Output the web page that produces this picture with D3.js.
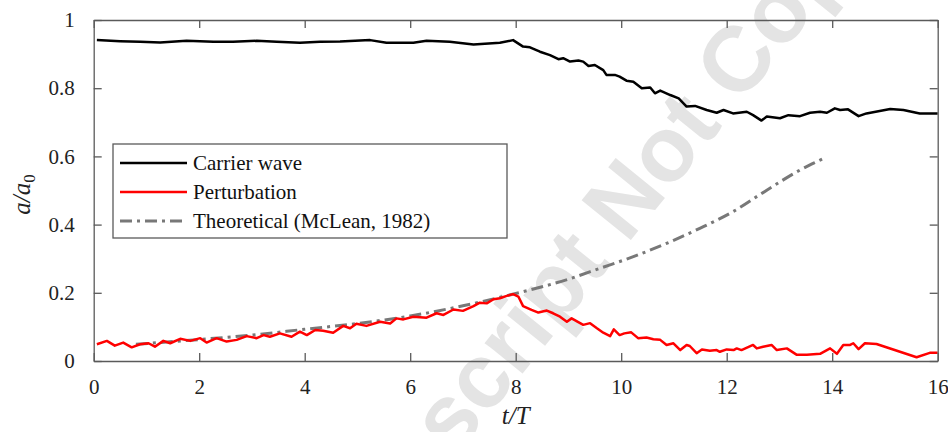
<!DOCTYPE html>
<html>
<head>
<meta charset="utf-8">
<script src="https://cdn.jsdelivr.net/npm/d3@7"></script>
<style>
  body { margin: 0; background: white; }
  svg { display: block; }
</style>
</head>
<body>
<script>
var carrierT = [0.06, 0.5, 0.88, 1.26, 1.76, 2.27, 2.64, 3.09, 3.47, 3.91, 4.29, 4.67, 5.24, 5.55,
                6.06, 6.31, 6.75, 7.2, 7.7, 7.95, 8.14, 8.27, 8.46, 8.65, 8.81, 8.9, 9.03, 9.19,
                9.28, 9.38, 9.5, 9.66, 9.72, 9.88, 9.97, 10.1, 10.23, 10.39, 10.55, 10.64, 10.74,
                10.93, 11.09, 11.24, 11.4, 11.62, 11.81, 11.94, 12.12, 12.38, 12.5, 12.66, 12.76,
                13.01, 13.17, 13.39, 13.58, 13.77, 13.9, 14.05, 14.15, 14.3, 14.5, 14.65, 15.1,
                15.35, 15.66, 16];
var carrierA = [0.941, 0.938, 0.936, 0.934, 0.939, 0.936, 0.936, 0.939, 0.936, 0.933, 0.936, 0.937,
                0.941, 0.933, 0.933, 0.939, 0.936, 0.928, 0.933, 0.941, 0.922, 0.92, 0.907, 0.897,
                0.885, 0.888, 0.878, 0.881, 0.878, 0.865, 0.868, 0.853, 0.839, 0.839, 0.834, 0.822,
                0.819, 0.8, 0.802, 0.785, 0.793, 0.78, 0.77, 0.746, 0.748, 0.736, 0.728, 0.736,
                0.726, 0.731, 0.721, 0.705, 0.717, 0.712, 0.721, 0.718, 0.728, 0.731, 0.728, 0.741,
                0.736, 0.738, 0.718, 0.726, 0.739, 0.736, 0.726, 0.726];

var pertT = [0.06, 0.25, 0.4, 0.56, 0.72, 0.88, 1.04, 1.16, 1.32, 1.45, 1.64, 1.83, 2.02, 2.14,
             2.33, 2.52, 2.71, 2.9, 3.09, 3.22, 3.34, 3.53, 3.75, 3.91, 4.04, 4.2, 4.35, 4.54,
             4.73, 4.86, 4.98, 5.17, 5.43, 5.62, 5.74, 5.87, 6.06, 6.31, 6.5, 6.63, 6.82, 7.0,
             7.2, 7.32, 7.45, 7.58, 7.7, 7.83, 7.95, 8.05, 8.14, 8.3, 8.43, 8.59, 8.71, 8.84,
             8.97, 9.06, 9.28, 9.41, 9.54, 9.66, 9.79, 9.86, 9.97, 10.06, 10.19, 10.32, 10.48,
             10.61, 10.74, 10.86, 10.99, 11.12, 11.24, 11.3, 11.43, 11.53, 11.68, 11.81, 11.87,
             12.0, 12.13, 12.19, 12.28, 12.5, 12.57, 12.69, 12.85, 12.95, 13.14, 13.33, 13.52,
             13.77, 13.96, 14.09, 14.21, 14.34, 14.4, 14.5, 14.62, 14.84, 15.6, 15.85, 16];
var pertA = [0.049, 0.059, 0.045, 0.054, 0.04, 0.049, 0.052, 0.042, 0.059, 0.052, 0.065, 0.059,
             0.067, 0.054, 0.067, 0.057, 0.062, 0.073, 0.067, 0.076, 0.071, 0.081, 0.071, 0.086,
             0.076, 0.091, 0.089, 0.083, 0.103, 0.096, 0.109, 0.103, 0.115, 0.11, 0.125, 0.122,
             0.13, 0.127, 0.14, 0.135, 0.151, 0.147, 0.161, 0.171, 0.169, 0.181, 0.184, 0.191,
             0.196, 0.189, 0.161, 0.15, 0.142, 0.148, 0.14, 0.13, 0.115, 0.125, 0.106, 0.111,
             0.096, 0.083, 0.073, 0.093, 0.076, 0.081, 0.084, 0.067, 0.069, 0.064, 0.062, 0.047,
             0.052, 0.032, 0.047, 0.044, 0.023, 0.034, 0.03, 0.032, 0.027, 0.034, 0.032, 0.037,
             0.032, 0.047, 0.037, 0.042, 0.047, 0.032, 0.037, 0.018, 0.018, 0.021, 0.037, 0.021,
             0.047, 0.047, 0.052, 0.035, 0.052, 0.05, 0.011, 0.024, 0.024];

var theoryT = [0.8, 2, 3, 4, 5, 6, 7, 8, 9, 9.6, 10.23, 10.86, 11.49, 12.12, 12.76, 13.39, 13.77, 13.85];
var theoryA = [0.049, 0.063, 0.076, 0.093, 0.11, 0.132, 0.162, 0.198, 0.24, 0.272, 0.306, 0.345,
               0.389, 0.438, 0.501, 0.56, 0.589, 0.595];

var xTicks = [0, 2, 4, 6, 8, 10, 12, 14, 16];
var yTicks = [0, 0.2, 0.4, 0.6, 0.8, 1];
var yTickLabels = ['0', '0.2', '0.4', '0.6', '0.8', '1'];
var legendNames = ['Carrier wave', 'Perturbation', 'Theoretical (McLean, 1982)'];

var width = 948, height = 432;
var margin = { top: 20, right: 10.3, bottom: 71, left: 93.7 };
var plotW = width - margin.left - margin.right;
var plotH = height - margin.top - margin.bottom;
var frameColor = '#5a5a5a';
var serifFamily = "'Liberation Serif', 'Times New Roman', Times, 'DejaVu Serif', serif";

function zip(ts, as) { return ts.map(function(t, i) { return { t: t, a: as[i] }; }); }

var svg = d3.select('body')
  .append('svg')
  .attr('width', width)
  .attr('height', height);

// watermark sits behind everything
var wm = svg.append('g')
  .attr('transform', 'translate(642, 226) rotate(-51)')
  .style('font-family', "'Liberation Sans', Arial, sans-serif")
  .style('font-weight', 'bold')
  .style('font-size', '92px')
  .attr('fill', '#e4e4e4');
wm.append('text').attr('x', -48).attr('text-anchor', 'end').text('Accepted Manuscript');
wm.append('text').attr('x', -24).text('Not Copyedited');

var x = d3.scaleLinear().domain([0, 16]).range([0, plotW]);
var y = d3.scaleLinear().domain([0, 1]).range([plotH, 0]);

var g = svg.append('g')
  .attr('transform', 'translate(' + margin.left + ',' + margin.top + ')');

var line = d3.line()
  .x(function(d) { return x(d.t); })
  .y(function(d) { return y(d.a); });

g.append('path')
  .datum(zip(theoryT, theoryA))
  .attr('fill', 'none')
  .attr('stroke', '#787878')
  .attr('stroke-width', 3)
  .attr('stroke-dasharray', '12,5,3,5')
  .attr('d', line.curve(d3.curveMonotoneX));

line.curve(d3.curveLinear);

g.append('path')
  .datum(zip(pertT, pertA))
  .attr('fill', 'none')
  .attr('stroke', '#ff0000')
  .attr('stroke-width', 2.5)
  .attr('stroke-linejoin', 'round')
  .attr('d', line);

g.append('path')
  .datum(zip(carrierT, carrierA))
  .attr('fill', 'none')
  .attr('stroke', '#000000')
  .attr('stroke-width', 2.5)
  .attr('stroke-linejoin', 'round')
  .attr('d', line);

// axes: ticks pointing inward on all four sides
var bottomAxis = g.append('g')
  .attr('transform', 'translate(0,' + plotH + ')')
  .call(d3.axisBottom(x).tickValues(xTicks).tickSizeInner(-8).tickSizeOuter(0).tickPadding(18));
var topAxis = g.append('g')
  .call(d3.axisTop(x).tickValues(xTicks).tickSizeInner(-8).tickSizeOuter(0).tickFormat(''));
var leftAxis = g.append('g')
  .call(d3.axisLeft(y).tickValues(yTicks).tickSizeInner(-8).tickSizeOuter(0).tickPadding(19)
    .tickFormat(function(d, i) { return yTickLabels[i]; }));
var rightAxis = g.append('g')
  .attr('transform', 'translate(' + plotW + ',0)')
  .call(d3.axisRight(y).tickValues(yTicks).tickSizeInner(-8).tickSizeOuter(0).tickFormat(''));

[bottomAxis, topAxis, leftAxis, rightAxis].forEach(function(a) {
  a.attr('font-family', serifFamily).attr('font-size', 21);
  a.select('.domain').attr('stroke', frameColor).attr('stroke-width', 1.3);
  a.selectAll('.tick line').attr('stroke', frameColor).attr('stroke-width', 1.3);
  a.selectAll('.tick text').attr('fill', '#222');
});

// axis titles
svg.append('text')
  .attr('x', margin.left + plotW / 2)
  .attr('y', 424)
  .attr('text-anchor', 'middle')
  .attr('style', 'font-family: ' + serifFamily + '; font-style: italic; font-size: 25px')
  .attr('fill', '#222')
  .text('t/T');

var ylab = svg.append('text')
  .attr('transform', 'translate(30,' + (margin.top + plotH / 2 + 4) + ') rotate(-90)')
  .attr('text-anchor', 'middle')
  .attr('style', 'font-family: ' + serifFamily + '; font-style: italic; font-size: 25px')
  .attr('fill', '#222');
ylab.append('tspan').text('a/a');
ylab.append('tspan').attr('dy', 5).attr('style', 'font-size: 17px; font-style: normal').text('0');

// legend
var legend = svg.append('g').attr('transform', 'translate(113,144)');
legend.append('rect')
  .attr('width', 394)
  .attr('height', 94)
  .attr('fill', 'white')
  .attr('stroke', frameColor)
  .attr('stroke-width', 1.3);

var legendStyles = [
  { stroke: '#000000', width: 2.5, dash: null },
  { stroke: '#ff0000', width: 2.5, dash: null },
  { stroke: '#787878', width: 3, dash: '12,5,3,5' }
];

var rows = legend.selectAll('g.row')
  .data(legendNames)
  .enter()
  .append('g')
  .attr('class', 'row')
  .attr('transform', function(d, i) { return 'translate(0,' + (19 + i * 29) + ')'; });

rows.append('line')
  .attr('x1', 7).attr('x2', 74)
  .attr('stroke', function(d, i) { return legendStyles[i].stroke; })
  .attr('stroke-width', function(d, i) { return legendStyles[i].width; })
  .attr('stroke-dasharray', function(d, i) { return legendStyles[i].dash; });

rows.append('text')
  .attr('x', 80)
  .attr('dy', '0.35em')
  .attr('fill', '#111')
  .attr('style', 'font-family: ' + serifFamily + '; font-size: 21px')
  .text(function(d) { return d; });
</script>
</body>
</html>
